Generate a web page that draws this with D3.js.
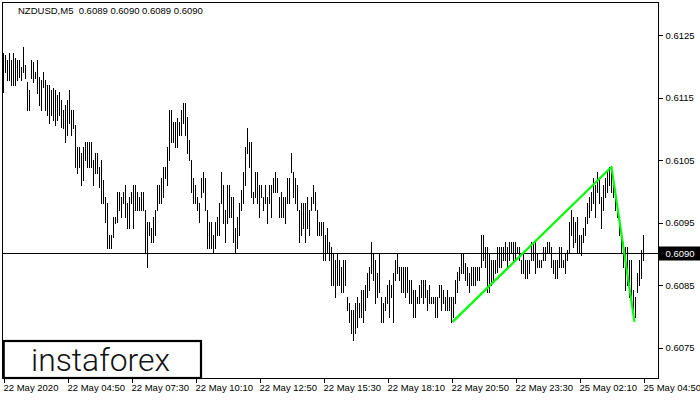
<!DOCTYPE html>
<html><head><meta charset="utf-8">
<script src="https://cdn.jsdelivr.net/npm/d3@7"></script>
<style>body{margin:0;background:#fff;} svg{display:block;}</style>
</head><body>
<svg id="c" width="700" height="400"></svg>
<script>
const symbolTitle = "NZDUSD,M5  0.6089 0.6090 0.6089 0.6090";
const timeLabels = ["22 May 2020","22 May 04:50","22 May 07:30","22 May 10:10","22 May 12:50","22 May 15:30","22 May 18:10","22 May 20:50","22 May 23:30","25 May 02:10","25 May 04:50"];
const barsPerLabel = 32;
const priceTicks = [0.6075,0.6085,0.6095,0.6105,0.6115,0.6125];
const currentPrice = 0.6090;
const highs = [
0.61221,0.61218,0.61210,0.61221,0.61210,0.61221,0.61213,0.61210,0.61210,0.61199,0.61231,0.61202,
0.61175,0.61162,0.61210,0.61207,0.61191,0.61210,0.61183,0.61178,0.61191,0.61178,0.61170,0.61170,
0.61162,0.61165,0.61162,0.61154,0.61159,0.61146,0.61130,0.61138,0.61146,0.61162,0.61130,0.61130,
0.61106,0.61071,0.61071,0.61061,0.61071,0.61079,0.61079,0.61079,0.61079,0.61050,0.61061,0.61061,
0.61039,0.61050,0.61018,0.60991,0.60981,0.60930,0.60930,0.60959,0.60959,0.60999,0.60999,0.60991,
0.60999,0.61010,0.60981,0.60991,0.60999,0.61010,0.61010,0.60999,0.60991,0.60999,0.60999,0.60970,
0.60951,0.60951,0.60941,0.60959,0.60970,0.61010,0.61010,0.61021,0.61039,0.61039,0.61071,0.61130,
0.61130,0.61111,0.61111,0.61117,0.61111,0.61130,0.61141,0.61141,0.61119,0.61082,0.61050,0.61021,
0.61010,0.60991,0.60981,0.61021,0.61031,0.61021,0.60970,0.60951,0.60951,0.60930,0.60951,0.60959,
0.60981,0.61031,0.61010,0.60970,0.61010,0.61010,0.60991,0.60991,0.60941,0.60959,0.60981,0.61002,
0.61031,0.61071,0.61101,0.61079,0.61079,0.60999,0.61031,0.61031,0.61010,0.61010,0.60991,0.61010,
0.60991,0.61010,0.61010,0.61021,0.61031,0.61021,0.60991,0.60999,0.60991,0.60991,0.61021,0.61021,
0.61061,0.61031,0.61021,0.61010,0.60970,0.60981,0.60981,0.60981,0.60991,0.60970,0.60991,0.61010,
0.60999,0.60970,0.60951,0.60951,0.60951,0.60930,0.60941,0.60919,0.60911,0.60901,0.60890,0.60901,
0.60890,0.60879,0.60890,0.60890,0.60831,0.60821,0.60810,0.60810,0.60821,0.60831,0.60821,0.60842,
0.60842,0.60850,0.60869,0.60879,0.60919,0.60901,0.60890,0.60869,0.60901,0.60831,0.60821,0.60831,
0.60850,0.60858,0.60850,0.60869,0.60890,0.60901,0.60879,0.60879,0.60879,0.60879,0.60879,0.60858,
0.60858,0.60842,0.60842,0.60831,0.60850,0.60858,0.60858,0.60858,0.60842,0.60850,0.60831,0.60831,
0.60831,0.60831,0.60850,0.60850,0.60842,0.60831,0.60842,0.60831,0.60831,0.60831,0.60858,0.60871,
0.60879,0.60901,0.60901,0.60885,0.60879,0.60869,0.60879,0.60879,0.60879,0.60879,0.60879,0.60930,
0.60930,0.60911,0.60911,0.60901,0.60890,0.60890,0.60890,0.60911,0.60911,0.60911,0.60911,0.60919,
0.60911,0.60919,0.60919,0.60919,0.60919,0.60911,0.60911,0.60890,0.60901,0.60890,0.60890,0.60890,
0.60919,0.60919,0.60919,0.60901,0.60890,0.60890,0.60911,0.60911,0.60919,0.60919,0.60911,0.60890,
0.60890,0.60890,0.60911,0.60911,0.60890,0.60901,0.60906,0.60951,0.60970,0.60959,0.60951,0.60959,
0.60930,0.60930,0.60941,0.60959,0.60981,0.60991,0.60999,0.61021,0.61010,0.61031,0.61021,0.60991,
0.61010,0.61021,0.61031,0.61039,0.61039,0.61021,0.60999,0.60981,0.60959,0.60930,0.60919,0.60911,
0.60911,0.60890,0.60890,0.60842,0.60831,0.60869,0.60890,0.60906,0.60930
];
const lows = [
0.61159,0.61191,0.61178,0.61178,0.61170,0.61170,0.61170,0.61178,0.61183,0.61178,0.61191,0.61181,
0.61130,0.61130,0.61181,0.61175,0.61181,0.61157,0.61138,0.61130,0.61167,0.61130,0.61122,0.61109,
0.61122,0.61114,0.61106,0.61114,0.61122,0.61103,0.61101,0.61079,0.61090,0.61109,0.61090,0.61101,
0.61039,0.61029,0.61039,0.61010,0.61018,0.61050,0.61039,0.61039,0.61039,0.61010,0.61029,0.61029,
0.61007,0.60981,0.60981,0.60951,0.60909,0.60909,0.60909,0.60927,0.60949,0.60951,0.60970,0.60959,
0.60981,0.60959,0.60941,0.60941,0.60981,0.60941,0.60970,0.60970,0.60970,0.60970,0.60970,0.60901,
0.60879,0.60930,0.60919,0.60919,0.60930,0.60970,0.60981,0.60981,0.60991,0.61021,0.61010,0.61050,
0.61079,0.61079,0.61071,0.61071,0.61090,0.61090,0.61109,0.61090,0.61061,0.61050,0.60999,0.60981,
0.60981,0.60970,0.60951,0.60991,0.60999,0.60970,0.60909,0.60909,0.60909,0.60901,0.60909,0.60930,
0.60930,0.60981,0.60949,0.60919,0.60949,0.60959,0.60959,0.60919,0.60901,0.60909,0.60930,0.60970,
0.60981,0.61010,0.61061,0.61039,0.60991,0.60981,0.60991,0.60981,0.60959,0.60991,0.60970,0.60981,
0.60949,0.60981,0.60959,0.60999,0.60999,0.60999,0.60959,0.60959,0.60959,0.60949,0.60981,0.60981,
0.61031,0.60991,0.60981,0.60970,0.60919,0.60930,0.60941,0.60919,0.60941,0.60930,0.60970,0.60981,
0.60970,0.60930,0.60930,0.60930,0.60890,0.60890,0.60901,0.60890,0.60850,0.60850,0.60831,0.60850,
0.60850,0.60839,0.60839,0.60850,0.60810,0.60791,0.60773,0.60762,0.60773,0.60783,0.60799,0.60799,
0.60791,0.60810,0.60831,0.60842,0.60869,0.60858,0.60821,0.60831,0.60839,0.60791,0.60791,0.60810,
0.60821,0.60799,0.60831,0.60791,0.60858,0.60869,0.60858,0.60839,0.60839,0.60831,0.60839,0.60821,
0.60821,0.60799,0.60799,0.60821,0.60821,0.60831,0.60821,0.60831,0.60810,0.60821,0.60821,0.60821,
0.60799,0.60799,0.60831,0.60810,0.60821,0.60810,0.60810,0.60810,0.60791,0.60799,0.60821,0.60839,
0.60858,0.60869,0.60869,0.60858,0.60850,0.60839,0.60850,0.60850,0.60850,0.60858,0.60858,0.60879,
0.60890,0.60879,0.60839,0.60839,0.60850,0.60858,0.60869,0.60871,0.60879,0.60879,0.60890,0.60890,
0.60879,0.60890,0.60901,0.60890,0.60890,0.60901,0.60890,0.60869,0.60869,0.60861,0.60861,0.60869,
0.60890,0.60890,0.60869,0.60879,0.60879,0.60879,0.60890,0.60890,0.60901,0.60901,0.60879,0.60869,
0.60861,0.60861,0.60879,0.60879,0.60879,0.60869,0.60890,0.60901,0.60930,0.60911,0.60919,0.60901,
0.60901,0.60898,0.60919,0.60930,0.60949,0.60959,0.60970,0.60981,0.60959,0.60999,0.60981,0.60941,
0.60970,0.60991,0.60999,0.61010,0.60999,0.60991,0.60970,0.60959,0.60930,0.60901,0.60879,0.60842,
0.60850,0.60831,0.60831,0.60799,0.60799,0.60839,0.60850,0.60861,0.60890
];
const patternBars = [224.5, 304, 315.5];
const patternPrices = [0.60791, 0.61039, 0.60791];

const svg = d3.select("#c");
const font = "'Liberation Sans', Arial, sans-serif";
const plot = {left:2.5, top:2.5, right:658.5, bottom:378.5};
const n = highs.length;
const x = d3.scaleLinear().domain([0, n-1]).range([3.5, 3.5 + 2*(n-1)]);
const y = d3.scaleLinear().domain([0.6075, 0.6125]).range([347.5, 35.3]);

svg.append("rect").attr("width",700).attr("height",400).attr("fill","#fff");

// bars
svg.append("g").attr("shape-rendering","crispEdges")
  .selectAll("line").data(highs.map((h,i)=>({i,h,l:lows[i]}))).join("line")
  .attr("x1",d=>x(d.i)).attr("x2",d=>x(d.i))
  .attr("y1",d=>Math.round(y(d.h)))
  .attr("y2",d=>Math.round(y(d.l))+1)
  .attr("stroke","#000").attr("stroke-width",1);

// current price line
const cy = Math.floor(y(currentPrice)) + 0.5;
svg.append("line").attr("x1",plot.left).attr("x2",plot.right)
  .attr("y1",cy).attr("y2",cy).attr("stroke","#000").attr("shape-rendering","crispEdges");

// pattern line
svg.append("path")
  .datum(patternBars.map((b,i)=>[b,patternPrices[i]]))
  .attr("d", d3.line().x(d=>x(d[0])).y(d=>y(d[1])))
  .attr("fill","none").attr("stroke","#00ff00").attr("stroke-width",2.2)
  .attr("stroke-linejoin","round");

// frame
svg.append("rect").attr("x",plot.left).attr("y",plot.top)
  .attr("width",plot.right-plot.left).attr("height",plot.bottom-plot.top)
  .attr("fill","none").attr("stroke","#000").attr("shape-rendering","crispEdges");

// right price axis
const ya = svg.append("g").attr("transform",`translate(${plot.right},0)`)
  .call(d3.axisRight(y).tickValues(priceTicks).tickFormat(d3.format(".4f")).tickSize(4).tickPadding(3));
ya.select(".domain").remove();
ya.selectAll("line").attr("stroke","#000").attr("shape-rendering","crispEdges");
ya.selectAll("text").attr("font-family",font).attr("font-size","9.5px").attr("fill","#000");

// time axis
const tickIdx = timeLabels.map((t,i)=>i*barsPerLabel);
const xa = svg.append("g").attr("transform",`translate(0,${plot.bottom})`)
  .call(d3.axisBottom(x).tickValues(tickIdx).tickFormat((d,i)=>timeLabels[i]).tickSize(4));
xa.select(".domain").remove();
xa.selectAll("line").attr("stroke","#000").attr("shape-rendering","crispEdges");
xa.selectAll("text").attr("font-family",font).attr("font-size","9.5px").attr("fill","#000")
  .attr("text-anchor","start").attr("x",-0.5).attr("y",12.5).attr("dy",0);

// current price box
svg.append("rect").attr("x",659).attr("y",cy-7).attr("width",41).attr("height",14).attr("fill","#000");
svg.append("text").attr("x",665.5).attr("y",cy).attr("dy","0.34em")
  .attr("font-family",font).attr("font-size","9.5px").attr("fill","#fff")
  .text(d3.format(".4f")(currentPrice));

// title
svg.append("text").attr("x",18).attr("y",14).attr("font-family",font).attr("font-size","9.5px")
  .attr("fill","#000").attr("xml:space","preserve").style("white-space","pre").text(symbolTitle);

// logo box
svg.append("rect").attr("x",3.7).attr("y",341).attr("width",197.3).attr("height",37)
  .attr("fill","#fff").attr("stroke","#000").attr("stroke-width",2.2);
svg.append("text").attr("x",31).attr("y",371).attr("font-family","Roboto, 'DejaVu Sans', sans-serif")
  .attr("font-weight",300)
  .attr("font-size","31px").attr("fill","#111").attr("textLength",139)
  .attr("lengthAdjust","spacingAndGlyphs").text("instaforex");
</script>
</body></html>
